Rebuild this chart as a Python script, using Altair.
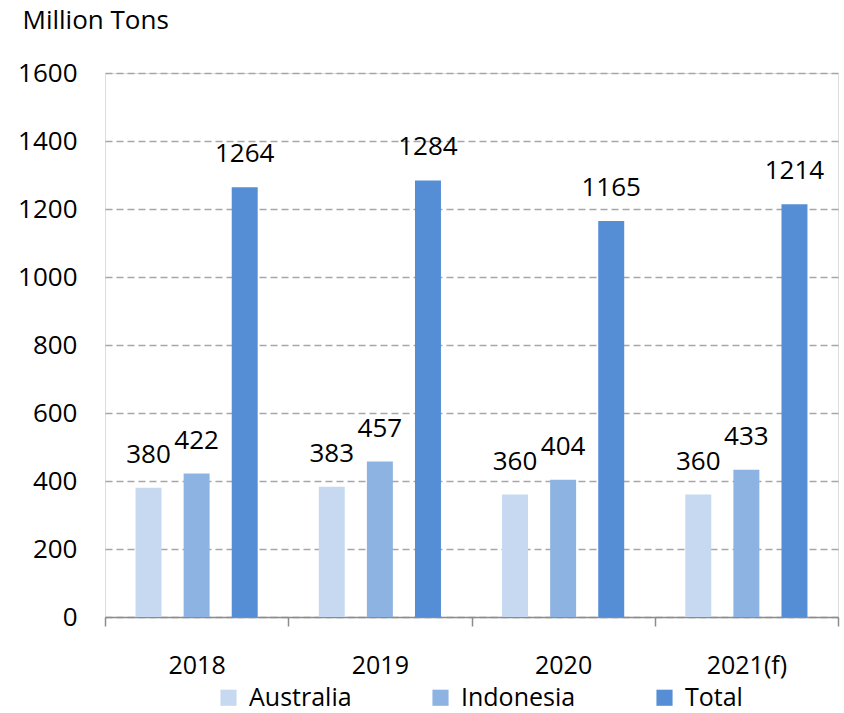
import altair as alt
import pandas as pd

years = ["2018", "2019", "2020", "2021(f)"]
series = ["Australia", "Indonesia", "Total"]
australia = [380, 383, 360, 360]
indonesia = [422, 457, 404, 433]
total = [1264, 1284, 1165, 1214]
colors = ["#c6d9f1", "#8db3e2", "#558ed5"]

rows = []
for i, y in enumerate(years):
    for s, vals in zip(series, [australia, indonesia, total]):
        rows.append({"year": y, "series": s, "value": vals[i]})
df = pd.DataFrame(rows)

FONT = "Open Sans"

x = alt.X(
    "year:N",
    sort=years,
    scale=alt.Scale(paddingInner=0, paddingOuter=0),
    axis=alt.Axis(
        title=None,
        labelAngle=0,
        labelFontSize=25,
        labelFont=FONT,
        labelColor="#000000",
        labelPadding=27,
        domainColor="#8c8c8c",
        domainWidth=1.5,
        tickColor="#8c8c8c",
        tickWidth=1.5,
        tickSize=9,
        tickBand="extent",
        grid=False,
    ),
)
xo = alt.XOffset(
    "series:N",
    sort=series,
    scale=alt.Scale(paddingInner=0.46, paddingOuter=0.635),
)
y = alt.Y(
    "value:Q",
    scale=alt.Scale(domain=[0, 1600], nice=False),
    axis=alt.Axis(
        title="Million Tons",
        titleAngle=0,
        titleAlign="left",
        titleBaseline="middle",
        titleX=-83,
        titleY=-53,
        titleFontSize=26,
        titleFontWeight="normal",
        titleFont=FONT,
        titleColor="#000000",
        values=[0, 200, 400, 600, 800, 1000, 1200, 1400, 1600],
        format="d",
        labelFontSize=26,
        labelFont=FONT,
        labelColor="#000000",
        labelPadding=28,
        domain=False,
        ticks=False,
        grid=True,
        gridColor="#a6a6a6",
        gridDash=[7, 4],
        gridWidth=1.4,
    ),
)
color = alt.Color(
    "series:N",
    sort=series,
    scale=alt.Scale(domain=series, range=colors),
    legend=alt.Legend(
        title=None,
        orient="none",
        direction="horizontal",
        legendX=111,
        legendY=612,
        symbolType="square",
        symbolSize=260,
        symbolStrokeWidth=0,
        symbolOpacity=1,
        labelFontSize=25,
        labelFont=FONT,
        labelColor="#000000",
        labelOffset=8,
        labelLimit=300,
        columnPadding=76,
    ),
)

bars = alt.Chart(df).mark_bar(opacity=1).encode(x=x, xOffset=xo, y=y, color=color)
labels = alt.Chart(df).mark_text(
    fontSize=26, font=FONT, color="#000000", baseline="alphabetic", dy=-25
).encode(x=x, xOffset=xo, y=y, text="value:Q")

chart = (
    alt.layer(bars, labels)
    .properties(
        width=733,
        height=544,
        autosize=alt.AutoSizeParams(type="none"),
        padding={"left": 105, "top": 73, "right": 6, "bottom": 96},
    )
    .configure_view(stroke=None)
    .configure(background="#ffffff")
)

chart.save("out.html", embed_options={"renderer": "svg", "actions": False})
